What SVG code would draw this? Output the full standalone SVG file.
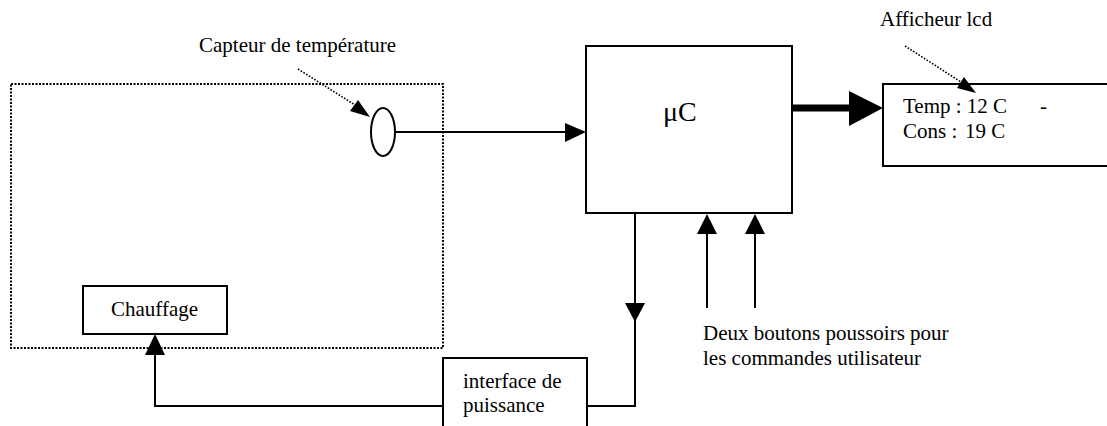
<svg xmlns="http://www.w3.org/2000/svg" width="1107" height="426" viewBox="0 0 1107 426">
  <style>
    .lbl { font-family: "Liberation Serif", "Times New Roman", serif; font-size: 21px; fill: #000; }
    .box { fill: #fff; stroke: #000; stroke-width: 2; }
    .wire { fill: none; stroke: #000; stroke-width: 2; }
    .lead { fill: none; stroke: #000; stroke-width: 1.6; stroke-dasharray: 1.6 1.6; }
    .head { fill: #000; stroke: none; }
  </style>
  <rect width="1107" height="426" fill="#fff"/>

  <!-- heated enclosure (dotted boundary) -->
  <g id="enclosure">
    <rect x="11" y="84" width="432" height="264" fill="none" stroke="#000" stroke-width="2" stroke-dasharray="2 1.5"/>
  </g>

  <!-- temperature sensor -->
  <g id="sensor">
    <ellipse cx="383" cy="132" rx="12" ry="24" class="box"/>
    <text class="lbl" x="199" y="52">Capteur de température</text>
  </g>

  <!-- microcontroller -->
  <g id="mcu">
    <rect x="586" y="46" width="206" height="167" class="box"/>
    <text class="lbl" x="663" y="121" style="font-size:28px">μC</text>
  </g>

  <!-- LCD display -->
  <g id="lcd">
    <rect x="883" y="84" width="240" height="82" class="box"/>
    <text class="lbl" x="903" y="113">Temp : 12 C</text>
    <text class="lbl" x="1040" y="113">-</text>
    <text class="lbl" x="903" y="138">Cons :</text>
    <text class="lbl" x="965" y="138">19 C</text>
    <text class="lbl" x="880" y="26">Afficheur lcd</text>
  </g>

  <!-- heater -->
  <g id="heater">
    <rect x="83" y="286" width="144" height="48" class="box"/>
    <text class="lbl" x="111" y="316">Chauffage</text>
  </g>

  <!-- power interface -->
  <g id="power">
    <rect x="443" y="358" width="144" height="80" class="box"/>
    <text class="lbl" x="463" y="388">interface de</text>
    <text class="lbl" x="463" y="412">puissance</text>
  </g>

  <!-- push buttons caption -->
  <g id="buttons">
    <text class="lbl" x="703" y="340">Deux boutons poussoirs pour</text>
    <text class="lbl" x="703" y="365">les commandes utilisateur</text>
  </g>

  <!-- connectors -->
  <g id="connectors">
    <!-- sensor to μC -->
    <line x1="395" y1="132" x2="566" y2="132" class="wire"/>
    <polygon points="565,123 586,132 565,142" class="head"/>

    <!-- μC to display (bus) -->
    <line x1="792" y1="108" x2="851" y2="108" stroke="#000" stroke-width="7"/>
    <polygon points="849,91 883,108 849,126" class="head"/>

    <!-- μC to power interface -->
    <polyline points="635,213 635,406 587,406" class="wire"/>
    <polygon points="625,303 645,303 635,322" class="head"/>

    <!-- power interface to heater -->
    <polyline points="443,406 155,406 155,354" class="wire"/>
    <polygon points="145,355 165,355 155,334" class="head"/>

    <!-- push buttons to μC -->
    <line x1="707" y1="308" x2="707" y2="233" class="wire"/>
    <polygon points="697,234 717,234 707,214" class="head"/>
    <line x1="755" y1="308" x2="755" y2="233" class="wire"/>
    <polygon points="745,234 765,234 755,214" class="head"/>

    <!-- label leaders -->
    <line x1="298" y1="69" x2="355" y2="105" class="lead"/>
    <polygon points="350,111 358,100 370,117" class="head"/>
    <line x1="905" y1="46" x2="961" y2="82" class="lead"/>
    <polygon points="957,88 964,77 976,93" class="head"/>
  </g>
</svg>
